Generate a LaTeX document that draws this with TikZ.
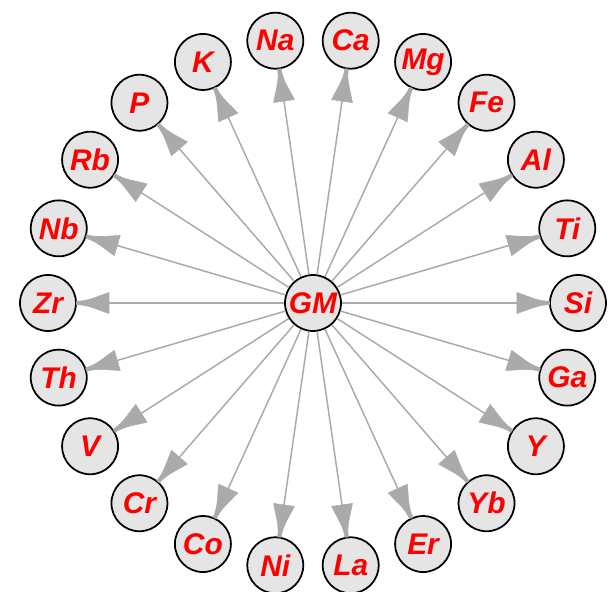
\documentclass[tikz,border=0pt]{standalone}
\usepackage{fontspec}
\setmainfont{Liberation Sans}

\definecolor{edgegray}{RGB}{170,170,170}
\definecolor{nodegray}{RGB}{229,229,229}

\tikzset{
	elem/.style={circle, draw=black, line width=1pt, fill=nodegray,
		minimum size=1.12cm, inner sep=0pt, text=red,
		font=\fontsize{17}{17}\selectfont\bfseries\itshape},
	link/.style={draw=edgegray, line width=0.85pt},
	head/.style={fill=edgegray, draw=edgegray, line width=0.3pt}
}

\begin{document}
\begin{tikzpicture}

	\useasboundingbox (-6.26,-5.78) rectangle (6.00,6.06);

	\node[elem] (GM) at (0,0) {GM};

	\node[elem] (Si) at (0:5.3) {Si};
	\node[elem] (Ti) at (16.36:5.3) {Ti};
	\node[elem] (Al) at (32.73:5.3) {Al};
	\node[elem] (Fe) at (49.09:5.3) {Fe};
	\node[elem] (Mg) at (65.45:5.3) {Mg};
	\node[elem] (Ca) at (81.82:5.3) {Ca};
	\node[elem] (Na) at (98.18:5.3) {Na};
	\node[elem] (K) at (114.55:5.3) {K};
	\node[elem] (P) at (130.91:5.3) {P};
	\node[elem] (Rb) at (147.27:5.3) {Rb};
	\node[elem] (Nb) at (163.64:5.3) {Nb};
	\node[elem] (Zr) at (180:5.3) {Zr};
	\node[elem] (Th) at (196.36:5.3) {Th};
	\node[elem] (V) at (212.73:5.3) {V};
	\node[elem] (Cr) at (229.09:5.3) {Cr};
	\node[elem] (Co) at (245.45:5.3) {Co};
	\node[elem] (Ni) at (261.82:5.3) {Ni};
	\node[elem] (La) at (278.18:5.3) {La};
	\node[elem] (Er) at (294.55:5.3) {Er};
	\node[elem] (Yb) at (310.91:5.3) {Yb};
	\node[elem] (Y) at (327.27:5.3) {Y};
	\node[elem] (Ga) at (343.64:5.3) {Ga};

	% GM points to every element, head flares out from the circle
	\foreach \el/\ang in {Si/0,Ti/16.36,Al/32.73,Fe/49.09,Mg/65.45,Ca/81.82,
		Na/98.18,K/114.55,P/130.91,Rb/147.27,Nb/163.64,Zr/180,Th/196.36,
		V/212.73,Cr/229.09,Co/245.45,Ni/261.82,La/278.18,Er/294.55,
		Yb/310.91,Y/327.27,Ga/343.64} {
		\draw[link] (GM) -- (\el);
		\begin{scope}[shift={(\el.center)}, rotate=\ang]
			\path[head] (-1.22,0.21) .. controls (-0.95,0.12) and (-0.80,0.035) .. (-0.57,0.035)
				-- (-0.57,-0.035) .. controls (-0.80,-0.035) and (-0.95,-0.12) .. (-1.22,-0.21)
				-- cycle;
		\end{scope}
	}

\end{tikzpicture}
\end{document}
